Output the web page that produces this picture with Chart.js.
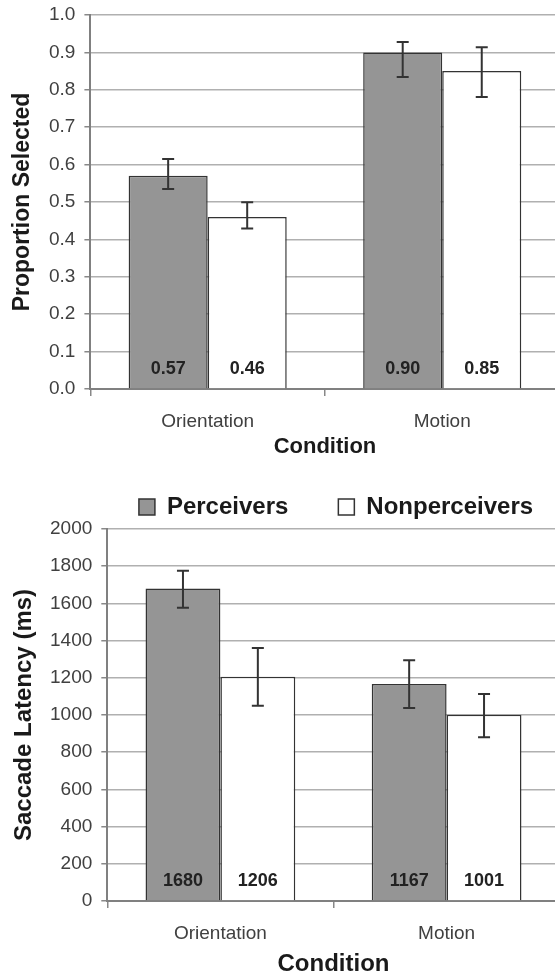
<!DOCTYPE html>
<html>
<head>
    <meta charset="utf-8">
    <title>Proportion selected and saccade latency</title>
    <script src="https://cdn.jsdelivr.net/npm/chart.js@4.4.1/dist/chart.umd.min.js"></script>
    <style>
        html, body { margin: 0; padding: 0; background: #fff; overflow: hidden; }
        #page { position: relative; width: 555px; height: 972px; overflow: hidden; }
        .box { position: absolute; left: 0; }
    </style>
</head>
<body>
<div id="page">
    <div class="box" style="top:0;width:562px;height:462px"><canvas id="proportion"></canvas></div>
    <div class="box" style="top:440px;width:672px;height:540px"><canvas id="latency"></canvas></div>
</div>

<script>
    // ---------------- data ----------------
    var conditions = ['Orientation', 'Motion'];
    var groups = ['Perceivers', 'Nonperceivers'];

    // top panel: proportion selected
    var propPerceivers = [0.57, 0.90];
    var propNonperceivers = [0.46, 0.85];
    var propPercErrUp = [0.045, 0.028];
    var propPercErrDown = [0.035, 0.066];
    var propNonErrUp = [0.039, 0.064];
    var propNonErrDown = [0.031, 0.069];
    var propTicks = [0, 0.1, 0.2, 0.3, 0.4, 0.5, 0.6, 0.7, 0.8, 0.9, 1.0];

    // bottom panel: saccade latency (ms)
    var latPerceivers = [1680, 1167];
    var latNonperceivers = [1206, 1001];
    var latPercErrUp = [96, 127];
    var latPercErrDown = [103, 129];
    var latNonErrUp = [154, 112];
    var latNonErrDown = [156, 120];
    var latTicks = [0, 200, 400, 600, 800, 1000, 1200, 1400, 1600, 1800, 2000];

    var FONT = "'Liberation Sans', Arial, sans-serif";
    var GRAY = '#959595';
    var EDGE = '#333333';

    // error bars drawn from each dataset's errUp / errDown
    var errorBars = {
        id: 'errorBars',
        afterDatasetsDraw: function(chart) {
            var ctx = chart.ctx;
            var y = chart.scales.y;
            ctx.save();
            ctx.strokeStyle = '#333';
            ctx.lineWidth = 2;
            chart.data.datasets.forEach(function(ds, di) {
                chart.getDatasetMeta(di).data.forEach(function(bar, i) {
                    var v = ds.data[i];
                    var hi = y.getPixelForValue(v + ds.errUp[i]);
                    var lo = y.getPixelForValue(v - ds.errDown[i]);
                    ctx.beginPath();
                    ctx.moveTo(bar.x, hi); ctx.lineTo(bar.x, lo);
                    ctx.moveTo(bar.x - 6, hi); ctx.lineTo(bar.x + 6, hi);
                    ctx.moveTo(bar.x - 6, lo); ctx.lineTo(bar.x + 6, lo);
                    ctx.stroke();
                });
            });
            ctx.restore();
        }
    };

    // value printed near the foot of every bar
    var barValues = {
        id: 'barValues',
        afterDatasetsDraw: function(chart, args, opts) {
            var ctx = chart.ctx;
            var y = chart.scales.y;
            ctx.save();
            ctx.font = 'bold 18px ' + FONT;
            ctx.fillStyle = '#222';
            ctx.textAlign = 'center';
            ctx.textBaseline = 'middle';
            chart.data.datasets.forEach(function(ds, di) {
                chart.getDatasetMeta(di).data.forEach(function(bar, i) {
                    ctx.fillText(opts.format(ds.data[i]), bar.x, y.bottom - 20);
                });
            });
            ctx.restore();
        }
    };

    function makeDataset(label, data, up, down, color) {
        return {
            label: label,
            data: data,
            errUp: up,
            errDown: down,
            backgroundColor: color,
            borderColor: EDGE,
            borderWidth: 1.5,
            barPercentage: 1.0
        };
    }

    function makeOptions(cfg) {
        var scales = {
            x: {
                afterFit: function(s) { s.height = cfg.xHeight; },
                grid: { display: true, drawOnChartArea: false, drawTicks: true, tickLength: 7, color: '#888', lineWidth: 1.5 },
                border: { display: true, color: '#808080', width: 2 },
                ticks: { color: '#404040', font: { family: FONT, size: 19 }, padding: 14 },
                title: { display: true, text: 'Condition', color: '#1a1a1a',
                         font: { family: FONT, size: cfg.xTitleSize, weight: 'bold', lineHeight: 1 },
                         padding: { top: 0, bottom: cfg.xTitlePad } }
            },
            y: {
                min: cfg.ticks[0],
                max: cfg.ticks[cfg.ticks.length - 1],
                afterFit: function(s) { s.width = cfg.yWidth; },
                afterBuildTicks: function(s) { s.ticks = cfg.ticks.map(function(v) { return { value: v }; }); },
                grid: { color: '#b0b0b0', lineWidth: 1.5, tickLength: 6, tickColor: '#888' },
                border: { display: true, color: '#808080', width: 2 },
                ticks: { color: '#404040', font: { family: FONT, size: 19, lineHeight: 0.6 }, padding: 9,
                         callback: cfg.tickFormat },
                title: { display: true, text: cfg.yTitle, color: '#1a1a1a',
                         font: { family: FONT, size: cfg.yTitleSize, weight: 'bold', lineHeight: 1 },
                         padding: { top: cfg.yTitlePad, bottom: 0 } }
            }
        };
        if (cfg.rightGap) {
            // empty strip on the right: keeps the plot edge in place while the legend centres on the wider canvas
            scales.yGap = {
                axis: 'y',
                position: 'right',
                display: true,
                afterFit: function(s) { s.width = cfg.rightGap; },
                grid: { display: false },
                border: { display: false },
                ticks: { display: false }
            };
        }
        return {
            responsive: true,
            maintainAspectRatio: false,
            animation: false,
            devicePixelRatio: 1,
            layout: { padding: cfg.padding },
            datasets: { bar: { categoryPercentage: cfg.catPct } },
            plugins: {
                legend: cfg.legend,
                tooltip: { enabled: false },
                barValues: { format: cfg.format }
            },
            scales: scales
        };
    }

    new Chart(document.getElementById('proportion'), {
        type: 'bar',
        data: {
            labels: conditions,
            datasets: [
                makeDataset(groups[0], propPerceivers, propPercErrUp, propPercErrDown, GRAY),
                makeDataset(groups[1], propNonperceivers, propNonErrUp, propNonErrDown, '#ffffff')
            ]
        },
        options: makeOptions({
            padding: { top: 15, right: 2.5, left: 0, bottom: 0 },
            catPct: 0.674,
            legend: { display: false },
            format: function(v) { return v.toFixed(2); },
            tickFormat: function(v) { return Number(v).toFixed(1); },
            ticks: propTicks,
            xHeight: 73,
            xTitleSize: 22,
            xTitlePad: 4,
            yWidth: 90.4,
            yTitle: 'Proportion Selected',
            yTitleSize: 23,
            yTitlePad: 11
        }),
        plugins: [errorBars, barValues]
    });

    new Chart(document.getElementById('latency'), {
        type: 'bar',
        data: {
            labels: conditions,
            datasets: [
                makeDataset(groups[0], latPerceivers, latPercErrUp, latPercErrDown, GRAY),
                makeDataset(groups[1], latNonperceivers, latNonErrUp, latNonErrDown, '#ffffff')
            ]
        },
        options: makeOptions({
            padding: { top: 5, right: 0, left: 0, bottom: 0 },
            catPct: 0.662,
            rightGap: 112.3,
            legend: {
                display: true,
                position: 'top',
                labels: {
                    color: '#1a1a1a',
                    font: { family: FONT, size: 24, weight: 'bold' },
                    boxWidth: 16,
                    boxHeight: 16,
                    padding: 50
                }
            },
            format: function(v) { return String(v); },
            tickFormat: function(v) { return String(v); },
            ticks: latTicks,
            xHeight: 79,
            xTitleSize: 24,
            xTitlePad: 4,
            yWidth: 107.3,
            yTitle: 'Saccade Latency (ms)',
            yTitleSize: 24,
            yTitlePad: 12
        }),
        plugins: [errorBars, barValues]
    });
</script>
</body>
</html>
